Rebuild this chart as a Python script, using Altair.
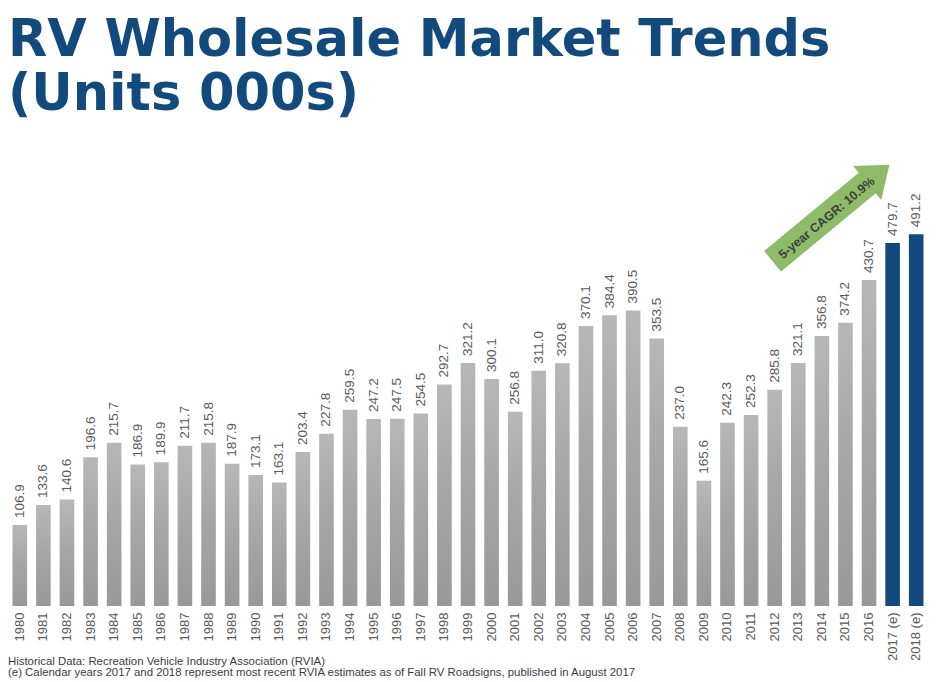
import altair as alt
import pandas as pd

years = ["1980", "1981", "1982", "1983", "1984", "1985", "1986", "1987", "1988", "1989",
         "1990", "1991", "1992", "1993", "1994", "1995", "1996", "1997", "1998", "1999",
         "2000", "2001", "2002", "2003", "2004", "2005", "2006", "2007", "2008", "2009",
         "2010", "2011", "2012", "2013", "2014", "2015", "2016", "2017 (e)", "2018 (e)"]
units = [106.9, 133.6, 140.6, 196.6, 215.7, 186.9, 189.9, 211.7, 215.8, 187.9,
         173.1, 163.1, 203.4, 227.8, 259.5, 247.2, 247.5, 254.5, 292.7, 321.2,
         300.1, 256.8, 311.0, 320.8, 370.1, 384.4, 390.5, 353.5, 237.0, 165.6,
         242.3, 252.3, 285.8, 321.1, 356.8, 374.2, 430.7, 479.7, 491.2]
estimate = [False] * 37 + [True] * 2

title_line1 = "RV Wholesale Market Trends"
title_line2 = "(Units 000s)"
footnotes = ["Historical Data: Recreation Vehicle Industry Association (RVIA)",
             "(e)  Calendar years 2017 and 2018 represent most recent RVIA estimates as of Fall RV Roadsigns, published in August 2017"]
cagr_label = ["5-year CAGR: 10.9%"]

df = pd.DataFrame({"year": years, "units": units, "est": estimate})

BLUE = "#124A7E"
W, H = 920, 454

gray_grad = alt.Gradient(
    gradient="linear",
    stops=[alt.GradientStop(color="#b7b7b7", offset=0),
           alt.GradientStop(color="#a5a5a5", offset=0.5),
           alt.GradientStop(color="#999999", offset=1)],
    x1=0, x2=0, y1=0, y2=1,
)

x_enc = alt.X("year:N", sort=years,
              scale=alt.Scale(paddingInner=0.38, paddingOuter=0.19),
              axis=alt.Axis(title=None, labelAngle=270, domain=False, ticks=False,
                            labelPadding=6, labelColor="#595959", labelFontSize=13,
                            labelFont="Liberation Sans", grid=False))
y_enc = alt.Y("units:Q", scale=alt.Scale(domain=[0, 600], nice=False), axis=None)

base = alt.Chart(df).encode(x=x_enc, y=y_enc)
gray_bars = base.transform_filter("!datum.est").mark_bar(color=gray_grad)
blue_bars = base.transform_filter("datum.est").mark_bar(color=BLUE)
value_labels = base.mark_text(angle=270, align="left", baseline="middle", dx=7,
                              fontSize=13.5, color="#595959", font="Liberation Sans").encode(
    text=alt.Text("units:Q", format=".1f"))

one = pd.DataFrame({"k": [0]})

title_style = dict(align="left", baseline="alphabetic", fontSize=51,
                   fontWeight="bold", font="DejaVu Sans", color=BLUE)
title1 = alt.Chart(one).mark_text(**title_style).encode(
    x=alt.value(0), y=alt.value(-96), text=alt.value(title_line1))
title2 = alt.Chart(one).mark_text(**title_style).encode(
    x=alt.value(0), y=alt.value(-42), text=alt.value(title_line2))

foot = alt.Chart(one).mark_text(align="left", baseline="alphabetic", fontSize=11.4,
                                font="Liberation Sans", color="#3c3c3c",
                                lineHeight=11).encode(
    x=alt.value(0), y=alt.value(513), text=alt.value(footnotes))

arrow_path = "M -1 -0.175 L 0.62 -0.175 L 0.62 -0.29 L 1 0 L 0.62 0.29 L 0.62 0.175 L -1 0.175 Z"
arrow = alt.Chart(one).mark_point(shape=arrow_path, filled=True, color="#8DBB68",
                                  opacity=1, size=22982, angle=320.4, strokeWidth=0).encode(
    x=alt.value(823), y=alt.value(61))
arrow_text = alt.Chart(one).mark_text(angle=320.4, align="center", baseline="middle",
                                      fontSize=12.5, fontWeight="bold", color="#3F3F3F",
                                      font="Liberation Sans").encode(
    x=alt.value(818.7), y=alt.value(66), text=alt.value(cagr_label))

chart = alt.layer(gray_bars, blue_bars, value_labels, title1, title2, foot, arrow, arrow_text).properties(
    width=W, height=H,
    background="white",
    autosize=alt.AutoSizeParams(type="none"),
    padding={"left": 0, "top": 144, "right": 1, "bottom": 76},
).configure_view(strokeWidth=0, stroke="transparent")

chart.save("out.html", embed_options={"renderer": "svg", "actions": False})
